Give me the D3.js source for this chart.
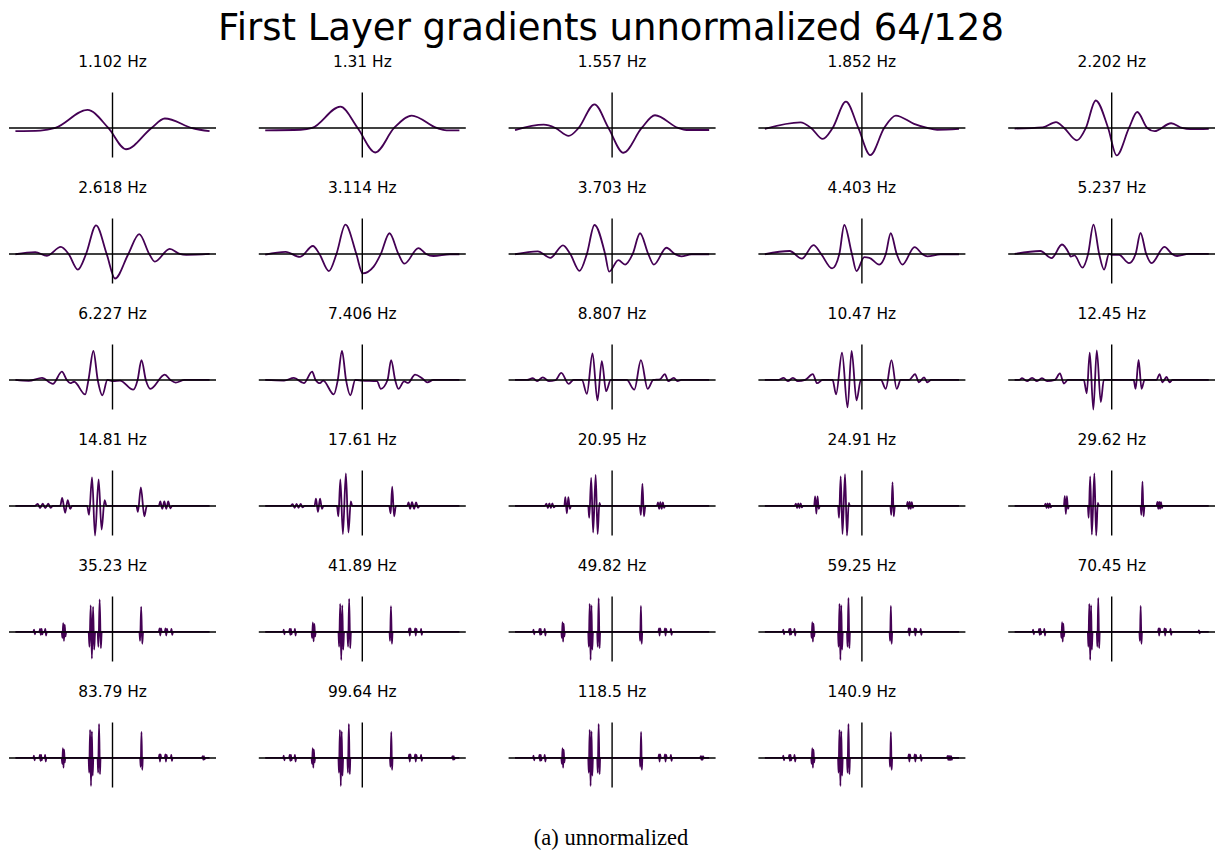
<!DOCTYPE html>
<html>
<head>
<meta charset="utf-8">
<script src="https://cdn.jsdelivr.net/npm/d3@7"></script>
<style>
  body { margin: 0; background: #fff; }
  svg { display: block; }
</style>
</head>
<body>
<div id="chart"></div>
<script>
// figure texts
const figTitle = "First Layer gradients unnormalized 64/128";
const caption = "(a) unnormalized";
const freqLabels = [
  "1.102 Hz", "1.31 Hz", "1.557 Hz", "1.852 Hz", "2.202 Hz",
  "2.618 Hz", "3.114 Hz", "3.703 Hz", "4.403 Hz", "5.237 Hz",
  "6.227 Hz", "7.406 Hz", "8.807 Hz", "10.47 Hz", "12.45 Hz",
  "14.81 Hz", "17.61 Hz", "20.95 Hz", "24.91 Hz", "29.62 Hz",
  "35.23 Hz", "41.89 Hz", "49.82 Hz", "59.25 Hz", "70.45 Hz",
  "83.79 Hz", "99.64 Hz", "118.5 Hz", "140.9 Hz"
];

// [lag (samples), gradient]
const wave1 = [[-65,-0.11],[-48.3,-0.09],[-38.3,0],[-16.8,0.61],[-2.8,0],[9,-0.72],[26.1,0],[35,0.32],[53.9,-0.01],[65,-0.11]];
const wave2 = [[-65,-0.08],[-41.3,-0.06],[-33.6,0],[-14.7,0.72],[-3.1,0],[8.7,-0.83],[21.3,0],[33.1,0.42],[49.8,0],[56.4,-0.08],[65,-0.08]];
const wave3 = [[-65,-0.07],[-45.8,0.11],[-38,0],[-29.1,-0.27],[-22.4,0],[-11.8,0.8],[-2.4,0],[7.6,-0.84],[19.8,0],[28.7,0.43],[44.2,0],[49.8,-0.07],[65,-0.07]];
const wave4 = [[-65,-0.03],[-41.1,0.19],[-34,0],[-26.2,-0.37],[-19.6,0],[-10.7,0.89],[-2.4,0],[5.6,-0.92],[14.9,0],[22.7,0.42],[34.9,0.14],[43.8,0],[50.4,-0.06],[65,-0.03]];
const wave5 = [[-65,-0.02],[-46.2,0.02],[-37.3,0.2],[-31.8,0],[-23.3,-0.42],[-17.3,0],[-10.7,0.93],[-2.4,0],[3.3,-0.93],[11.6,0],[17.1,0.54],[23.8,0],[28.7,-0.11],[39.8,0.16],[47.1,0],[52.7,-0.04],[65,-0.03]];
const wave6 = [[-65,-0.01],[-51.7,0.06],[-43.9,-0.06],[-34.6,0.24],[-29.4,0],[-23.2,-0.53],[-17.7,0],[-11,0.97],[-3.9,0],[1.7,-0.83],[10.6,0],[17.9,0.67],[24.6,0],[28.3,-0.26],[38.3,0.17],[45,0],[49.4,-0.03],[65,0]];
const wave7 = [[-65,-0.02],[-51.3,0.07],[-41.8,-0.1],[-33.1,0.27],[-28.7,0],[-22.4,-0.58],[-17.3,0],[-11.3,0.99],[-4,0],[0.2,-0.66],[7.6,-0.43],[12.4,0],[18.2,0.7],[24.2,0],[28.2,-0.33],[37.6,0.2],[42.7,0],[47.6,-0.07],[58.7,-0.01],[65,-0.01]];
const wave8 = [[-65,-0.01],[-49.8,0.09],[-41.3,-0.13],[-32.9,0.29],[-28,0],[-21.8,-0.57],[-16.9,0],[-11.8,0.98],[-4.7,0],[-2,-0.6],[4.2,-0.21],[8.7,-0.36],[13.8,0],[18.7,0.7],[24.2,0],[28,-0.36],[36.4,0.21],[42,0],[46.4,-0.08],[53.1,-0.01],[65,-0.01]];
const wave9 = [[-65,-0.01],[-48.4,0.1],[-40.2,-0.16],[-32.4,0.3],[-27.3,0],[-20,-0.49],[-15.1,0],[-11.8,0.98],[-6.7,0],[-3.6,-0.58],[1.6,-0.11],[5,-0.13],[11.6,-0.36],[16,0],[19.3,0.7],[23.3,0],[27.1,-0.36],[35.3,0.23],[40.4,0],[43.8,-0.08],[52.7,-0.01],[65,-0.01]];
const wave10 = [[-65,0],[-47.8,0.1],[-40.2,-0.14],[-33.3,0.32],[-28.4,0],[-27.5,-0.09],[-24.9,-0.05],[-19.6,-0.46],[-15.8,0],[-12.2,0.99],[-8.4,0],[-5.1,-0.53],[-1.8,0],[0.4,-0.03],[4.9,-0.03],[11.6,-0.31],[16,0],[19.3,0.71],[23.1,0],[26.7,-0.31],[35.3,0.24],[40.4,0],[43.8,-0.07],[51.6,0],[65,0]];
const wave11 = [[-65,0],[-56.1,-0.03],[-47.2,0.07],[-39.9,-0.13],[-33.9,0.28],[-30.6,0],[-28.3,-0.11],[-25.7,-0.06],[-18.3,-0.49],[-16.1,0],[-12.8,0.98],[-9.9,0],[-6.8,-0.52],[-3.4,0],[0.6,-0.04],[5,-0.02],[13.9,-0.33],[16.8,0],[19.4,0.67],[22.3,0],[25.4,-0.3],[35,0.18],[38.8,0],[42.3,-0.09],[48.3,0],[65,0]];
const wave12 = [[-65,0],[-52.4,-0.02],[-45.8,0.07],[-39.1,-0.11],[-33.6,0.28],[-31.3,0],[-28.4,-0.11],[-26.2,-0.02],[-19.1,-0.49],[-16.4,0],[-13.6,0.98],[-10.9,0],[-8,-0.52],[-4.7,0],[-0.2,-0.02],[9.8,-0.04],[12.4,-0.3],[16.9,0],[19.3,0.67],[22,0],[24.2,-0.3],[28,-0.05],[30.7,-0.1],[35.3,0.18],[39.8,0.07],[43.6,-0.08],[47.6,0],[65,0]];
const wave13 = [[-65,0],[-56.9,0],[-53.1,0.06],[-50.2,-0.04],[-46.4,0.09],[-42.4,-0.04],[-38,-0.01],[-34,0.24],[-29.1,-0.13],[-25.8,0],[-20.2,0],[-16.9,-0.47],[-13.1,0.9],[-9.8,-0.69],[-6.9,0.64],[-4,-0.38],[-0.9,0],[9.8,0],[14.9,-0.33],[19.3,0.67],[23.8,-0.3],[27.6,0],[32,0.02],[35.3,0.2],[37.6,-0.04],[41.3,0.07],[43.8,-0.04],[46.4,0],[65,0]];
const wave14 = [[-65,0],[-56.2,0],[-52.4,0.07],[-49.6,-0.04],[-46.2,0.07],[-42.9,-0.04],[-38,0],[-32.9,0.2],[-30,-0.11],[-26.2,0],[-19.6,0],[-17.3,-0.49],[-13.3,0.92],[-9.6,-0.93],[-6.9,0.98],[-3.6,-0.69],[-0.7,0],[12.7,0],[16,-0.3],[19.8,0.67],[23.3,-0.3],[26,0],[31.6,0],[35.6,0.2],[38.2,-0.08],[41.6,0.09],[43.8,-0.08],[46.4,0],[65,0]];
const wave15 = [[-65,0],[-62,0],[-60,0.06],[-56.7,-0.04],[-53.3,0.07],[-50,-0.04],[-46.7,0.06],[-43.3,-0.04],[-38,0],[-34.7,0.22],[-32,-0.12],[-29.3,0],[-18.7,0],[-16.7,-0.45],[-14.7,0.92],[-12.3,-1],[-10,1],[-7.3,-0.75],[-5.3,0],[14.7,0],[16,-0.3],[18,0.68],[20,-0.3],[22,0],[30,0],[32,0.2],[34,-0.08],[36.7,0.1],[38.7,-0.08],[40.7,0],[65,0]];
const wave16 = [[-65,0],[-52,0],[-50,0.07],[-48.5,-0.07],[-46.7,0.08],[-45,-0.07],[-43,0.08],[-41.5,-0.06],[-40,0],[-35,0],[-33.7,0.27],[-31.7,-0.23],[-30,0.2],[-28.3,-0.1],[-27,0],[-17,0],[-15.7,-0.3],[-13.7,0.97],[-11.7,-1],[-9.3,0.9],[-7.3,-0.8],[-5.3,0.2],[-4,0],[16,0],[17,-0.2],[19,0.63],[21.3,-0.35],[23,0],[31,0],[32,0.15],[33.3,-0.1],[34.7,0.15],[36,-0.1],[37.3,0.15],[38.7,-0.08],[40,0],[65,0]];
const wave17 = [[-65,0],[-48,0],[-46.7,0.06],[-45.3,-0.06],[-44,0.07],[-42.7,-0.06],[-41.3,0.07],[-40,-0.05],[-38.7,0],[-32,0],[-31,0.25],[-29.7,-0.2],[-28.3,0.25],[-27,-0.1],[-26,0],[-17,0],[-16,-0.35],[-14.7,0.9],[-13,-0.95],[-11,1.1],[-9.3,-0.9],[-7.7,0.15],[-6.7,0],[18,0],[19,-0.25],[20,0.65],[21.3,-0.35],[22.5,0],[30,0],[31,0.12],[32,-0.1],[33.3,0.13],[34.7,-0.1],[36,0.12],[37.3,-0.06],[38.5,0],[65,0]];
const wave18 = [[-65,0],[-45,0],[-44,0.08],[-43,-0.07],[-42,0.09],[-41,-0.07],[-40,0.09],[-39,-0.05],[-38,0],[-32,0],[-31.3,0.3],[-30.3,-0.25],[-29.3,0.3],[-28.3,-0.1],[-27.5,0],[-16,0],[-15.3,-0.4],[-14,0.95],[-12.7,-0.9],[-11,1.05],[-9.7,-0.95],[-8.5,0.1],[-7.7,0],[18.5,0],[19.3,-0.3],[20.3,0.75],[21.3,-0.35],[22.3,0],[30,0],[30.7,0.12],[31.5,-0.1],[32.3,0.13],[33.2,-0.1],[34,0.12],[34.8,-0.06],[35.5,0],[65,0]];
const wave19 = [[-65,0],[-45,0],[-44.2,0.08],[-43.4,-0.07],[-42.6,0.09],[-41.8,-0.07],[-41,0.09],[-40.2,-0.05],[-39.4,0],[-32,0],[-31.3,0.32],[-30.5,-0.26],[-29.7,0.32],[-28.9,-0.1],[-28.2,0],[-16,0],[-15.3,-0.4],[-14.2,1],[-13,-0.95],[-11.3,1.08],[-10,-1],[-8.8,0.1],[-8,0],[19,0],[19.7,-0.3],[20.5,0.8],[21.3,-0.35],[22.1,0],[30,0],[30.6,0.14],[31.3,-0.1],[32,0.14],[32.7,-0.1],[33.4,0.13],[34.1,-0.06],[34.8,0],[65,0]];
const wave20 = [[-65,0],[-45,0],[-44.3,0.08],[-43.6,-0.07],[-42.9,0.09],[-42.2,-0.07],[-41.5,0.09],[-40.8,-0.05],[-40,0],[-32,0],[-31.4,0.33],[-30.7,-0.27],[-30,0.33],[-29.3,-0.1],[-28.6,0],[-16,0],[-15.4,-0.4],[-14.4,1],[-13.3,-0.97],[-11.6,1.1],[-10.4,-1],[-9.3,0.1],[-8.5,0],[19.3,0],[19.9,-0.3],[20.6,0.82],[21.3,-0.35],[22,0],[30,0],[30.6,0.14],[31.2,-0.1],[31.8,0.14],[32.4,-0.1],[33,0.13],[33.6,-0.06],[34.2,0],[65,0]];
const wave21 = [[-65,0],[-53,0],[-52.5,0.08],[-52,-0.08],[-51.5,0],[-49,0],[-48.5,0.1],[-48,-0.1],[-47.5,0.1],[-47,-0.08],[-46.5,0],[-45.5,0],[-45,0.1],[-44.5,-0.12],[-44,0],[-34,0],[-33.5,-0.2],[-33,0.3],[-32.5,-0.3],[-32,0.25],[-31.5,-0.15],[-31,0],[-16,0],[-15.4,-0.5],[-14.6,0.9],[-13.8,-0.9],[-13,0.85],[-12.3,-0.6],[-11.6,0],[-10,0],[-9.4,-0.5],[-8.6,1.1],[-7.8,-0.55],[-7.2,0],[18,0],[18.5,-0.3],[19.2,0.85],[19.9,-0.4],[20.5,0],[31,0],[31.5,0.12],[32,-0.12],[32.5,0.12],[33,0],[35,0],[35.5,0.12],[36,-0.12],[36.5,0.1],[37,0],[39,0],[39.5,0.1],[40,-0.1],[40.5,0],[65,0]];
const wave22 = [[-65,0],[-53,0],[-52.6,0.08],[-52.2,-0.08],[-51.8,0],[-49,0],[-48.6,0.1],[-48.2,-0.1],[-47.8,0.1],[-47.4,-0.08],[-47,0],[-45.5,0],[-45.1,0.1],[-44.7,-0.12],[-44.3,0],[-34,0],[-33.6,-0.2],[-33.1,0.32],[-32.6,-0.32],[-32.1,0.27],[-31.6,-0.15],[-31.2,0],[-16,0],[-15.5,-0.5],[-14.8,0.95],[-14.1,-0.95],[-13.4,0.9],[-12.8,-0.6],[-12.2,0],[-10,0],[-9.5,-0.5],[-8.8,1.12],[-8.1,-0.55],[-7.6,0],[18.2,0],[18.6,-0.3],[19.2,0.87],[19.8,-0.4],[20.3,0],[31,0],[31.4,0.12],[31.8,-0.12],[32.2,0.12],[32.6,0],[35,0],[35.4,0.12],[35.8,-0.12],[36.2,0.1],[36.6,0],[39,0],[39.4,0.1],[39.8,-0.1],[40.2,0],[65,0]];
const wave23 = [[-65,0],[-53,0],[-52.6,0.08],[-52.2,-0.08],[-51.8,0],[-49,0],[-48.6,0.1],[-48.2,-0.1],[-47.8,0.1],[-47.4,-0.08],[-47,0],[-45.5,0],[-45.1,0.1],[-44.7,-0.12],[-44.3,0],[-34,0],[-33.6,-0.2],[-33.2,0.33],[-32.8,-0.33],[-32.4,0.28],[-32,-0.15],[-31.6,0],[-16,0],[-15.6,-0.5],[-15,0.95],[-14.4,-0.95],[-13.8,0.9],[-13.3,-0.6],[-12.8,0],[-10,0],[-9.6,-0.5],[-9,1.14],[-8.4,-0.55],[-8,0],[18.4,0],[18.8,-0.3],[19.3,0.88],[19.8,-0.4],[20.2,0],[31,0],[31.4,0.12],[31.8,-0.12],[32.2,0.12],[32.6,0],[35,0],[35.4,0.12],[35.8,-0.12],[36.2,0.1],[36.6,0],[39,0],[39.4,0.1],[39.8,-0.1],[40.2,0],[65,0]];
const wave24 = [[-65,0],[-53,0],[-52.6,0.08],[-52.2,-0.08],[-51.8,0],[-49,0],[-48.6,0.1],[-48.2,-0.1],[-47.8,0.1],[-47.4,-0.08],[-47,0],[-45.5,0],[-45.1,0.1],[-44.7,-0.12],[-44.3,0],[-34,0],[-33.6,-0.2],[-33.2,0.33],[-32.8,-0.33],[-32.4,0.28],[-32,-0.15],[-31.6,0],[-16,0],[-15.6,-0.5],[-15,0.95],[-14.4,-0.95],[-13.8,0.9],[-13.3,-0.6],[-12.8,0],[-10,0],[-9.6,-0.5],[-9,1.15],[-8.4,-0.55],[-8,0],[18.5,0],[18.9,-0.3],[19.4,0.88],[19.9,-0.4],[20.3,0],[31,0],[31.4,0.12],[31.8,-0.12],[32.2,0.12],[32.6,0],[35,0],[35.4,0.12],[35.8,-0.12],[36.2,0.1],[36.6,0],[39,0],[39.4,0.1],[39.8,-0.1],[40.2,0],[65,0]];
const wave25 = [[-65,0],[-53,0],[-52.6,0.08],[-52.2,-0.08],[-51.8,0],[-49,0],[-48.6,0.1],[-48.2,-0.1],[-47.8,0.1],[-47.4,-0.08],[-47,0],[-45.5,0],[-45.1,0.1],[-44.7,-0.12],[-44.3,0],[-34,0],[-33.6,-0.2],[-33.2,0.33],[-32.8,-0.33],[-32.4,0.28],[-32,-0.15],[-31.6,0],[-16,0],[-15.6,-0.5],[-15,0.95],[-14.4,-0.95],[-13.8,0.9],[-13.3,-0.6],[-12.8,0],[-10,0],[-9.6,-0.5],[-9,1.15],[-8.4,-0.55],[-8,0],[18.5,0],[18.9,-0.3],[19.4,0.88],[19.9,-0.4],[20.3,0],[31,0],[31.4,0.12],[31.8,-0.12],[32.2,0.12],[32.6,0],[35,0],[35.4,0.12],[35.8,-0.12],[36.2,0.1],[36.6,0],[39,0],[39.4,0.1],[39.8,-0.1],[40.2,0],[58,0],[58.4,0.05],[58.8,-0.05],[59.2,0],[65,0]];
const wave26 = [[-65,0],[-53,0],[-52.6,0.08],[-52.2,-0.08],[-51.8,0],[-49,0],[-48.6,0.1],[-48.2,-0.1],[-47.8,0.1],[-47.4,-0.08],[-47,0],[-45.5,0],[-45.1,0.1],[-44.7,-0.12],[-44.3,0],[-34,0],[-33.6,-0.2],[-33.2,0.33],[-32.8,-0.33],[-32.4,0.28],[-32,-0.15],[-31.6,0],[-16,0],[-15.6,-0.5],[-15,0.95],[-14.4,-0.95],[-13.8,0.9],[-13.3,-0.6],[-12.8,0],[-10,0],[-9.6,-0.5],[-9,1.15],[-8.4,-0.55],[-8,0],[18.5,0],[18.9,-0.3],[19.4,0.88],[19.9,-0.4],[20.3,0],[31,0],[31.4,0.12],[31.8,-0.12],[32.2,0.12],[32.6,0],[35,0],[35.4,0.12],[35.8,-0.12],[36.2,0.1],[36.6,0],[39,0],[39.4,0.1],[39.8,-0.1],[40.2,0],[60,0],[60.4,0.06],[60.8,-0.06],[61.2,0.06],[61.6,-0.05],[62,0],[65,0]];
const wave27 = [[-65,0],[-53,0],[-52.6,0.08],[-52.2,-0.08],[-51.8,0],[-49,0],[-48.6,0.1],[-48.2,-0.1],[-47.8,0.1],[-47.4,-0.08],[-47,0],[-45.5,0],[-45.1,0.1],[-44.7,-0.12],[-44.3,0],[-34,0],[-33.6,-0.2],[-33.2,0.33],[-32.8,-0.33],[-32.4,0.28],[-32,-0.15],[-31.6,0],[-16,0],[-15.6,-0.5],[-15,0.95],[-14.4,-0.95],[-13.8,0.9],[-13.3,-0.6],[-12.8,0],[-10,0],[-9.6,-0.5],[-9,1.15],[-8.4,-0.55],[-8,0],[18.5,0],[18.9,-0.3],[19.4,0.88],[19.9,-0.4],[20.3,0],[31,0],[31.4,0.12],[31.8,-0.12],[32.2,0.12],[32.6,0],[35,0],[35.4,0.12],[35.8,-0.12],[36.2,0.1],[36.6,0],[39,0],[39.4,0.1],[39.8,-0.1],[40.2,0],[60,0],[60.4,0.06],[60.8,-0.06],[61.2,0.06],[61.6,-0.05],[62,0],[65,0]];
const wave28 = [[-65,0],[-53,0],[-52.6,0.08],[-52.2,-0.08],[-51.8,0],[-49,0],[-48.6,0.1],[-48.2,-0.1],[-47.8,0.1],[-47.4,-0.08],[-47,0],[-45.5,0],[-45.1,0.1],[-44.7,-0.12],[-44.3,0],[-34,0],[-33.6,-0.2],[-33.2,0.33],[-32.8,-0.33],[-32.4,0.28],[-32,-0.15],[-31.6,0],[-16,0],[-15.6,-0.5],[-15,0.95],[-14.4,-0.95],[-13.8,0.9],[-13.3,-0.6],[-12.8,0],[-10,0],[-9.6,-0.5],[-9,1.15],[-8.4,-0.55],[-8,0],[18.5,0],[18.9,-0.3],[19.4,0.88],[19.9,-0.4],[20.3,0],[31,0],[31.4,0.12],[31.8,-0.12],[32.2,0.12],[32.6,0],[35,0],[35.4,0.12],[35.8,-0.12],[36.2,0.1],[36.6,0],[39,0],[39.4,0.1],[39.8,-0.1],[40.2,0],[59,0],[59.4,0.06],[59.8,-0.06],[60.2,0.06],[60.6,-0.06],[61,0.05],[61.4,0],[65,0]];
const wave29 = [[-65,0],[-53,0],[-52.6,0.08],[-52.2,-0.08],[-51.8,0],[-49,0],[-48.6,0.1],[-48.2,-0.1],[-47.8,0.1],[-47.4,-0.08],[-47,0],[-45.5,0],[-45.1,0.1],[-44.7,-0.12],[-44.3,0],[-34,0],[-33.6,-0.2],[-33.2,0.33],[-32.8,-0.33],[-32.4,0.28],[-32,-0.15],[-31.6,0],[-16,0],[-15.6,-0.5],[-15,0.95],[-14.4,-0.95],[-13.8,0.9],[-13.3,-0.6],[-12.8,0],[-10,0],[-9.6,-0.5],[-9,1.15],[-8.4,-0.55],[-8,0],[18.5,0],[18.9,-0.3],[19.4,0.88],[19.9,-0.4],[20.3,0],[31,0],[31.4,0.12],[31.8,-0.12],[32.2,0.12],[32.6,0],[35,0],[35.4,0.12],[35.8,-0.12],[36.2,0.1],[36.6,0],[39,0],[39.4,0.1],[39.8,-0.1],[40.2,0],[57,0],[57.4,0.07],[57.8,-0.07],[58.2,0.07],[58.6,-0.07],[59,0.07],[59.4,-0.07],[59.8,0.06],[60.2,-0.06],[60.6,0],[65,0]];

const waveforms = [
  wave1, wave2, wave3, wave4, wave5, wave6, wave7, wave8, wave9, wave10,
  wave11, wave12, wave13, wave14, wave15, wave16, wave17, wave18, wave19, wave20,
  wave21, wave22, wave23, wave24, wave25, wave26, wave27, wave28, wave29
];

// layout
const width = 1215, height = 851;
const nCols = 5;
const left0 = 9, colStep = 249.8, panelW = 207;
const top0 = 92.5, rowStep = 126, panelH = 65;
const lagDomain = [-69.3, 69.3];
const gradDomain = [-1, 1.2];
const lineColor = "#440154";

const svg = d3.select("#chart")
  .append("svg")
  .attr("width", width)
  .attr("height", height)
  .attr("viewBox", `0 0 ${width} ${height}`)
  .style("background-color", "#fff");

svg.append("text")
  .attr("x", 611)
  .attr("y", 40)
  .attr("text-anchor", "middle")
  .attr("font-family", "DejaVu Sans, sans-serif")
  .attr("font-size", 37)
  .attr("fill", "#000")
  .text(figTitle);

const panels = svg.selectAll("g.panel")
  .data(waveforms.map((w, i) => ({ wave: w, label: freqLabels[i], idx: i })))
  .join("g")
  .attr("class", "panel")
  .attr("transform", d => {
    const col = d.idx % nCols, row = Math.floor(d.idx / nCols);
    return `translate(${left0 + col * colStep},${top0 + row * rowStep})`;
  });

const x = d3.scaleLinear().domain(lagDomain).range([0, panelW]);
const y = d3.scaleLinear().domain(gradDomain).range([panelH, 0]);

const line = d3.line()
  .x(d => x(d[0]))
  .y(d => y(d[1]))
  .curve(d3.curveMonotoneX);

panels.append("path")
  .attr("d", d => line(d.wave))
  .attr("fill", "none")
  .attr("stroke", lineColor)
  .attr("stroke-width", 1.8)
  .attr("stroke-linejoin", "round");

// spines through zero
panels.append("line")
  .attr("x1", 0).attr("x2", panelW)
  .attr("y1", y(0)).attr("y2", y(0))
  .attr("stroke", "#000").attr("stroke-width", 1.4);

panels.append("line")
  .attr("x1", x(0)).attr("x2", x(0))
  .attr("y1", 0).attr("y2", panelH)
  .attr("stroke", "#000").attr("stroke-width", 1.4);

panels.append("text")
  .attr("x", panelW / 2)
  .attr("y", -25.5)
  .attr("text-anchor", "middle")
  .attr("font-family", "DejaVu Sans, sans-serif")
  .attr("font-size", 15.4)
  .attr("fill", "#000")
  .text(d => d.label);

svg.append("text")
  .attr("x", 611)
  .attr("y", 845)
  .attr("text-anchor", "middle")
  .attr("font-family", "Liberation Serif, Times New Roman, serif")
  .attr("font-size", 22.5)
  .attr("fill", "#000")
  .text(caption);
</script>
</body>
</html>
